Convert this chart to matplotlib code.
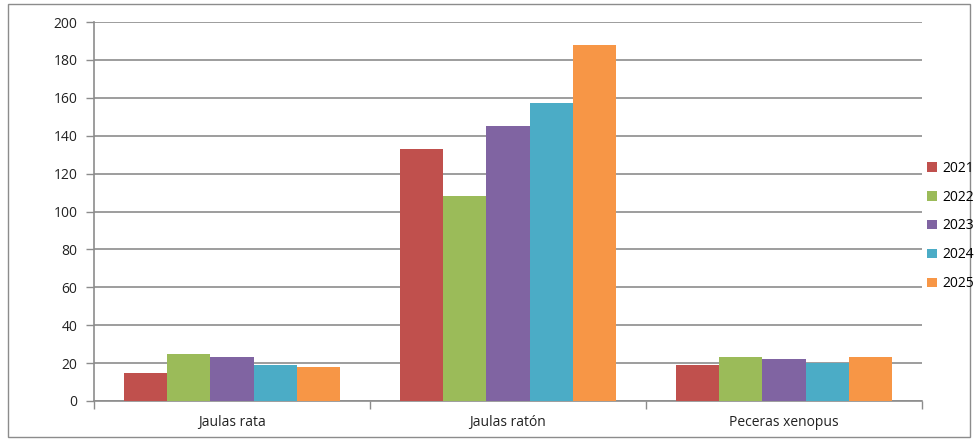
import matplotlib.pyplot as plt
import numpy as np
from matplotlib.patches import Rectangle

categories = ['Jaulas rata', 'Jaulas ratón', 'Peceras xenopus']
years = ['2021', '2022', '2023', '2024', '2025']
v2021 = [15, 133, 19]
v2022 = [25, 108, 23]
v2023 = [23, 145, 22]
v2024 = [19, 157, 20]
v2025 = [18, 188, 23]
series = [v2021, v2022, v2023, v2024, v2025]
colors = ['#C0504D', '#9BBB59', '#8064A2', '#4BACC6', '#F79646']

plt.rcParams['font.family'] = ['Open Sans', 'DejaVu Sans']

fig = plt.figure(figsize=(9.78, 4.41), dpi=100)
ax = fig.add_axes([94/978, 1-401/441, (922-94)/978, (401-22)/441])

x = np.arange(len(categories))
w = 0.156
for i, (vals, yr) in enumerate(zip(series, years)):
    ax.bar(x + (i - 2) * w, vals, width=w, color=colors[i], label=yr, zorder=3)

ax.set_xlim(-0.5, 2.5)
ax.set_ylim(0, 200)
ax.set_yticks(np.arange(0, 201, 20))
ax.yaxis.grid(True, color='#8c8c8c', linewidth=1.2, zorder=0)
ax.set_xticks(x)
ax.set_xticklabels(categories)
ax.set_xticks([-0.5, 0.5, 1.5, 2.5], minor=True)
ax.tick_params(axis='x', which='major', length=0, pad=10, labelsize=10, colors='#222222')
ax.tick_params(axis='x', which='minor', length=6, width=1, color='#8c8c8c', direction='out')
ax.tick_params(axis='y', length=6, width=1, color='#8c8c8c', labelsize=10, pad=6, labelcolor='#222222')
for s in ['top', 'right']:
    ax.spines[s].set_visible(False)
for s in ['left', 'bottom']:
    ax.spines[s].set_color('#8c8c8c')
    ax.spines[s].set_linewidth(1.2)

handles, labels = ax.get_legend_handles_labels()
fig.legend(handles, labels, loc='center left', bbox_to_anchor=(927/978, 215/441),
           frameon=False, borderpad=0, borderaxespad=0,
           handlelength=0.7, handleheight=0.7, handletextpad=0.4,
           labelspacing=1.0, fontsize=10)

fig.patches.append(Rectangle((8/978, 4/441), 962/978, 433/441, transform=fig.transFigure,
                             fill=False, edgecolor='#8c8c8c', linewidth=1))

fig.savefig('out.png', dpi=100)
